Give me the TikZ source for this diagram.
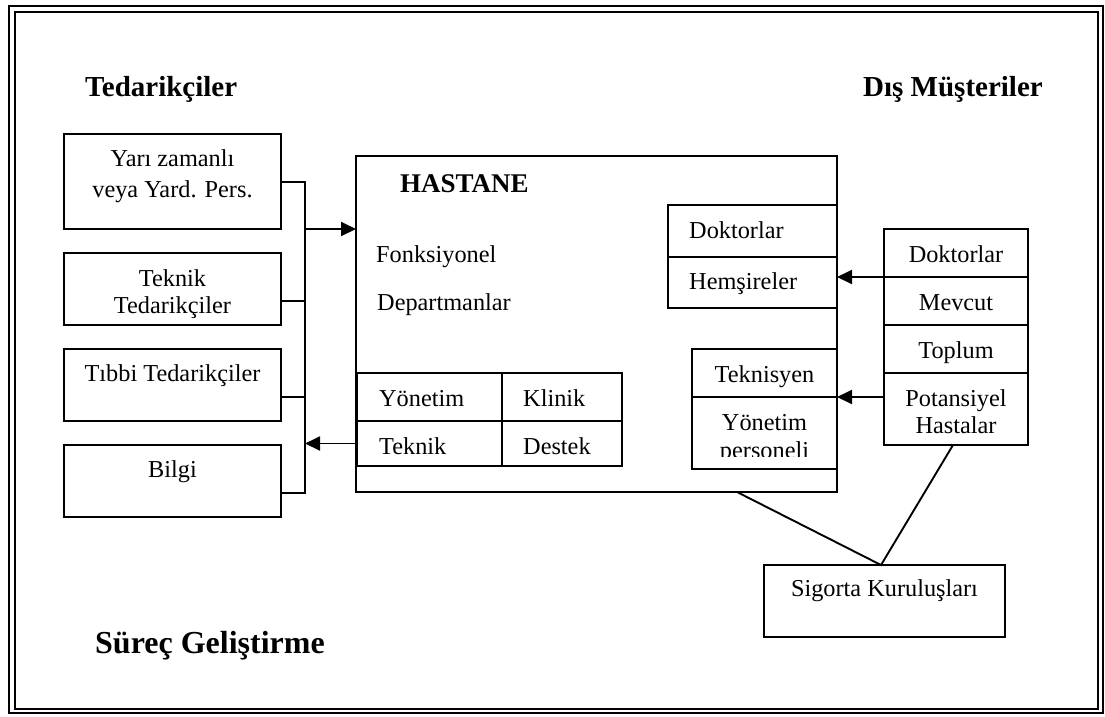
\documentclass[tikz,border=0pt]{standalone}
\usepackage{fontspec}
\setmainfont{Liberation Serif}
\usetikzlibrary{arrows.meta,calc}

\begin{document}
\begin{tikzpicture}[x=1pt,y=-1pt,
  box/.style={draw,line width=1.9pt,inner sep=0pt,outer sep=0pt,anchor=north west},
  txt/.style={font=\fontsize{24.3}{28}\selectfont,inner sep=0pt,anchor=base},
  txtw/.style={txt,anchor=base west},
  head/.style={font=\fontsize{29}{33}\selectfont\bfseries,inner sep=0pt,anchor=base west},
  link/.style={line width=1.9pt},
  arr/.style={link,-{Triangle[length=15pt,width=14pt]}}]

\useasboundingbox (0,0) rectangle (1105,716);

% double frame
\draw[line width=2.6pt] (9,6) rectangle (1103,713);
\draw[line width=2pt] (15,12) rectangle (1098,709);

% headings
\node[head] (hsup) at (85,96) {Tedarikçiler};
\node[head] (hcus) at (863,96) {Dış Müşteriler};
\node[head,font=\fontsize{32}{37}\selectfont\bfseries] (hproc) at (95,653) {Süreç Geliştirme};

% suppliers
\node[box,minimum width=217pt,minimum height=95pt] (s1) at (64,134) {};
\node[box,minimum width=217pt,minimum height=72pt] (s2) at (64,253) {};
\node[box,minimum width=217pt,minimum height=72pt] (s3) at (64,349) {};
\node[box,minimum width=217pt,minimum height=72pt] (s4) at (64,445) {};
\node[txt] (s1a) at (172.5,166) {Yarı zamanlı};
\node[txt] (s1b) at (172.5,197) {veya Yard. Pers.};
\node[txt] (s2a) at (172.5,286) {Teknik};
\node[txt] (s2b) at (172.5,313) {Tedarikçiler};
\node[txt] (s3a) at (172.5,381) {Tıbbi Tedarikçiler};
\node[txt] (s4a) at (172.5,477) {Bilgi};

% supplier bus
\coordinate (j1) at (305,181);
\coordinate (j4) at (305,493);
\coordinate (t1) at ($(s1.north east)+(0,48)$);
\coordinate (t2) at ($(s2.north east)+(0,48)$);
\coordinate (t3) at ($(s3.north east)+(0,48)$);
\coordinate (t4) at ($(s4.north east)+(0,48)$);
\draw[link] (t1) -- (t1 -| j1) -- (t4 -| j4) -- (t4);
\draw[link] (t2) -- (t2 -| j1);
\draw[link] (t3) -- (t3 -| j1);

% hospital
\node[box,minimum width=481pt,minimum height=336pt] (hosp) at (356,156) {};
\node[inner sep=0pt,anchor=base west,font=\fontsize{27}{31}\selectfont\bfseries] (hname) at (400,192) {HASTANE};
\node[txtw] (fon) at (376,262) {Fonksiyonel};
\node[txtw] (dep) at (377,310) {Departmanlar};

% departments table
\node[box,minimum width=145pt,minimum height=48pt] (yon) at (357,373) {};
\node[box,minimum width=120pt,minimum height=48pt] (kli) at (502,373) {};
\node[box,minimum width=145pt,minimum height=45pt] (tek) at (357,421) {};
\node[box,minimum width=120pt,minimum height=45pt] (des) at (502,421) {};
\node[txtw] (yont) at (379,406) {Yönetim};
\node[txtw] (klit) at (523,406) {Klinik};
\node[txtw] (tekt) at (379,454) {Teknik};
\node[txtw] (dest) at (523,454) {Destek};

% staff
\node[box,minimum width=169pt,minimum height=52pt] (dok) at (668,205) {};
\node[box,minimum width=169pt,minimum height=51pt] (hem) at (668,257) {};
\node[txtw] (dokt) at (689,238) {Doktorlar};
\node[txtw] (hemt) at (689,289) {Hemşireler};
\node[box,minimum width=145pt,minimum height=48pt] (tekn) at (692,349) {};
\node[box,minimum width=145pt,minimum height=72pt] (yonp) at (692,397) {};
\node[txt] (teknt) at (764.5,382) {Teknisyen};
\node[txt] (yonpa) at (764.5,430) {Yönetim};
\begin{scope}
  \clip (692,440) rectangle (837,456.5);
  \node[txt] (yonpb) at (764.5,458) {personeli};
\end{scope}

% external customers
\node[box,minimum width=144pt,minimum height=48pt] (sdok) at (884,229) {};
\node[box,minimum width=144pt,minimum height=48pt] (mev) at (884,277) {};
\node[box,minimum width=144pt,minimum height=48pt] (topl) at (884,325) {};
\node[box,minimum width=144pt,minimum height=72pt] (pot) at (884,373) {};
\node[txt] (sdokt) at (956,262) {Doktorlar};
\node[txt] (mevt) at (956,310) {Mevcut};
\node[txt] (toplt) at (956,358) {Toplum};
\node[txt] (pota) at (956,406) {Potansiyel};
\node[txt] (potb) at (956,433) {Hastalar};

% insurers
\node[box,minimum width=241pt,minimum height=72pt] (sig) at (764,565) {};
\node[txt] (sigt) at (884.5,596) {Sigorta Kuruluşları};

% flows
\coordinate (ain) at (305,229);
\draw[arr] (ain) -- (ain -| hosp.west);
\draw[arr] (tek.west) -- (tek.west -| j4);
\draw[arr] (sdok.south west) -- (sdok.south west -| hosp.east);
\draw[arr] ($(pot.north west)+(0,24)$) -- (tekn.south east);
\coordinate (apex) at (881,565);
\draw[link] ($(hosp.south east)+(-100,0)$) -- (apex) -- ($(pot.south)+(-3,0)$);
\end{tikzpicture}
\end{document}
